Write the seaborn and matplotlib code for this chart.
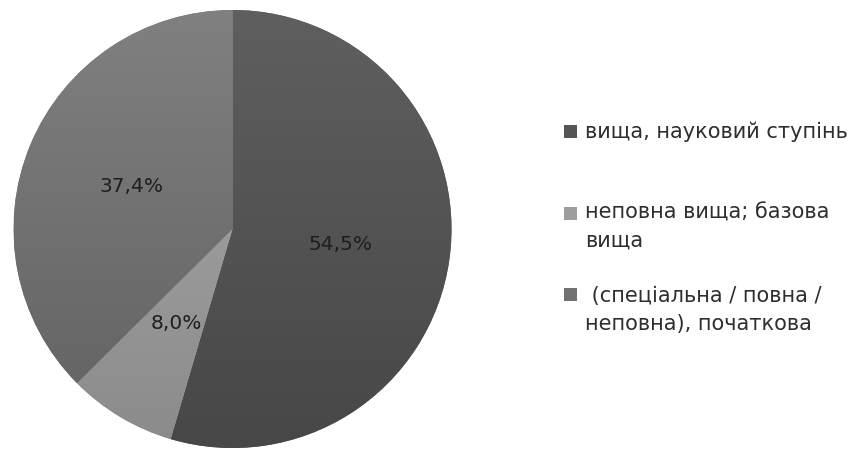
import matplotlib
matplotlib.use("Agg")
import matplotlib.pyplot as plt
import numpy as np
import seaborn as sns
from matplotlib.colors import LinearSegmentedColormap
from matplotlib.patches import Rectangle

# Education level shares, percent
categories = [
    "вища, науковий ступінь",
    "неповна вища; базова\nвища",
    " (спеціальна / повна /\nнеповна), початкова",
]
shares = [54.5, 8.0, 37.4]

# slice shading: (top colour, bottom colour)
shades = [("#5f5f5f", "#474747"), ("#aaaaaa", "#8b8b8b"), ("#808080", "#616161")]
legend_colors = ["#555555", "#9d9d9d", "#727272"]

sns.set_theme(style="white")
plt.rcParams["font.family"] = ["DejaVu Sans"]
FS = 14.5
LEG_FS = 15

W, H = 856, 449
fig = plt.figure(figsize=(W / 100, H / 100), dpi=100)
fig.patch.set_facecolor("white")

# pie axes: diameter 438 px, centred at (232.5, 229) from top-left
ax = fig.add_axes([13.5 / W, (H - 448) / H, 438 / W, 438 / H])
ax.set_xlim(-1, 1)
ax.set_ylim(-1, 1)
ax.set_aspect("equal")
ax.axis("off")

total = sum(shares)
wedges, _, autotexts = ax.pie(
    shares,
    startangle=90,
    counterclock=False,
    radius=1,
    pctdistance=0.5,
    autopct=lambda p: f"{p * total / 100:.1f}%".replace(".", ","),
    wedgeprops=dict(linewidth=0),
    textprops=dict(fontsize=FS, color="#1e1e1e"),
)

# vertical gradient inside each slice
grad = np.linspace(0, 1, 256).reshape(-1, 1)
for w, (top, bottom) in zip(wedges, shades):
    w.set_facecolor(top)
    cmap = LinearSegmentedColormap.from_list("s", [bottom, top])
    im = ax.imshow(grad, extent=[-1, 1, -1, 1], origin="lower", cmap=cmap,
                   aspect="auto", zorder=1.5, interpolation="bilinear")
    im.set_clip_path(w)
for t in autotexts:
    t.set_zorder(3)
ax.set_xlim(-1, 1)
ax.set_ylim(-1, 1)

# legend drawn beside the pie
entry_baselines = [137.5, 219, 302]
line_pitch = 28
marker_tops = [125, 207, 288]
for label, color, base, mtop in zip(categories, legend_colors, entry_baselines, marker_tops):
    fig.add_artist(Rectangle((564 / W, (H - mtop - 13) / H), 13 / W, 13 / H,
                             transform=fig.transFigure, facecolor=color,
                             edgecolor="none"))
    for i, line in enumerate(label.split("\n")):
        fig.text(585 / W, (H - base - i * line_pitch) / H, line,
                 fontsize=LEG_FS, color="#2e2e2e", ha="left", va="baseline")

fig.savefig("out.png", dpi=100, facecolor="white")
